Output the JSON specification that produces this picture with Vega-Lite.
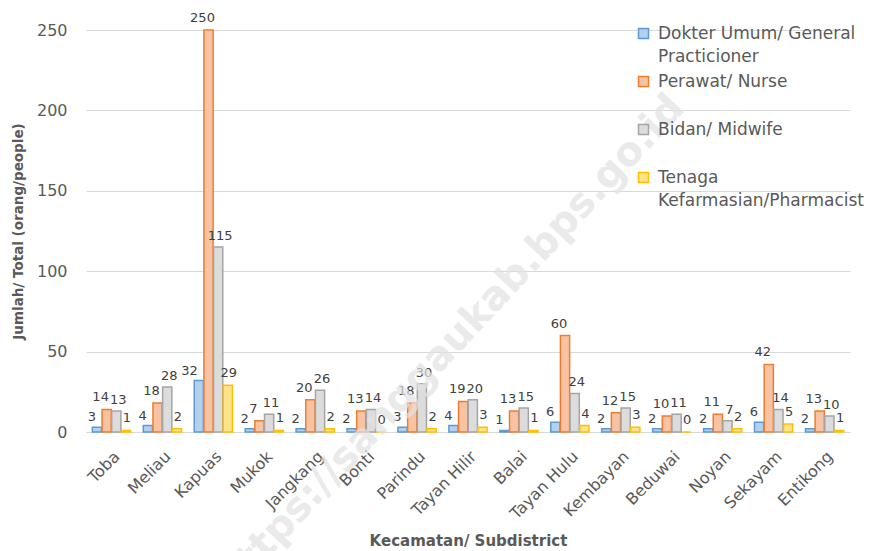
{
  "$schema": "https://vega.github.io/schema/vega-lite/v6.json",
  "width": 764,
  "height": 402,
  "autosize": {"type": "none"},
  "padding": {"left": 86, "top": 30, "right": 22, "bottom": 119},
  "background": "white",
  "config": {
    "font": "DejaVu Sans",
    "view": {"stroke": null},
    "axis": {"labelColor": "#595959", "titleColor": "#595959", "gridColor": "#d9d9d9", "domainColor": "#d9d9d9", "ticks": false}
  },
  "datasets": {
    "main": [
      {"kecamatan": "Toba", "tenaga": "Dokter Umum/ General Practicioner", "jumlah": 3},
      {"kecamatan": "Toba", "tenaga": "Perawat/ Nurse", "jumlah": 14},
      {"kecamatan": "Toba", "tenaga": "Bidan/ Midwife", "jumlah": 13},
      {"kecamatan": "Toba", "tenaga": "Tenaga Kefarmasian/Pharmacist", "jumlah": 1},
      {"kecamatan": "Meliau", "tenaga": "Dokter Umum/ General Practicioner", "jumlah": 4},
      {"kecamatan": "Meliau", "tenaga": "Perawat/ Nurse", "jumlah": 18},
      {"kecamatan": "Meliau", "tenaga": "Bidan/ Midwife", "jumlah": 28},
      {"kecamatan": "Meliau", "tenaga": "Tenaga Kefarmasian/Pharmacist", "jumlah": 2},
      {"kecamatan": "Kapuas", "tenaga": "Dokter Umum/ General Practicioner", "jumlah": 32},
      {"kecamatan": "Kapuas", "tenaga": "Perawat/ Nurse", "jumlah": 250},
      {"kecamatan": "Kapuas", "tenaga": "Bidan/ Midwife", "jumlah": 115},
      {"kecamatan": "Kapuas", "tenaga": "Tenaga Kefarmasian/Pharmacist", "jumlah": 29},
      {"kecamatan": "Mukok", "tenaga": "Dokter Umum/ General Practicioner", "jumlah": 2},
      {"kecamatan": "Mukok", "tenaga": "Perawat/ Nurse", "jumlah": 7},
      {"kecamatan": "Mukok", "tenaga": "Bidan/ Midwife", "jumlah": 11},
      {"kecamatan": "Mukok", "tenaga": "Tenaga Kefarmasian/Pharmacist", "jumlah": 1},
      {"kecamatan": "Jangkang", "tenaga": "Dokter Umum/ General Practicioner", "jumlah": 2},
      {"kecamatan": "Jangkang", "tenaga": "Perawat/ Nurse", "jumlah": 20},
      {"kecamatan": "Jangkang", "tenaga": "Bidan/ Midwife", "jumlah": 26},
      {"kecamatan": "Jangkang", "tenaga": "Tenaga Kefarmasian/Pharmacist", "jumlah": 2},
      {"kecamatan": "Bonti", "tenaga": "Dokter Umum/ General Practicioner", "jumlah": 2},
      {"kecamatan": "Bonti", "tenaga": "Perawat/ Nurse", "jumlah": 13},
      {"kecamatan": "Bonti", "tenaga": "Bidan/ Midwife", "jumlah": 14},
      {"kecamatan": "Bonti", "tenaga": "Tenaga Kefarmasian/Pharmacist", "jumlah": 0},
      {"kecamatan": "Parindu", "tenaga": "Dokter Umum/ General Practicioner", "jumlah": 3},
      {"kecamatan": "Parindu", "tenaga": "Perawat/ Nurse", "jumlah": 18},
      {"kecamatan": "Parindu", "tenaga": "Bidan/ Midwife", "jumlah": 30},
      {"kecamatan": "Parindu", "tenaga": "Tenaga Kefarmasian/Pharmacist", "jumlah": 2},
      {"kecamatan": "Tayan Hilir", "tenaga": "Dokter Umum/ General Practicioner", "jumlah": 4},
      {"kecamatan": "Tayan Hilir", "tenaga": "Perawat/ Nurse", "jumlah": 19},
      {"kecamatan": "Tayan Hilir", "tenaga": "Bidan/ Midwife", "jumlah": 20},
      {"kecamatan": "Tayan Hilir", "tenaga": "Tenaga Kefarmasian/Pharmacist", "jumlah": 3},
      {"kecamatan": "Balai", "tenaga": "Dokter Umum/ General Practicioner", "jumlah": 1},
      {"kecamatan": "Balai", "tenaga": "Perawat/ Nurse", "jumlah": 13},
      {"kecamatan": "Balai", "tenaga": "Bidan/ Midwife", "jumlah": 15},
      {"kecamatan": "Balai", "tenaga": "Tenaga Kefarmasian/Pharmacist", "jumlah": 1},
      {"kecamatan": "Tayan Hulu", "tenaga": "Dokter Umum/ General Practicioner", "jumlah": 6},
      {"kecamatan": "Tayan Hulu", "tenaga": "Perawat/ Nurse", "jumlah": 60},
      {"kecamatan": "Tayan Hulu", "tenaga": "Bidan/ Midwife", "jumlah": 24},
      {"kecamatan": "Tayan Hulu", "tenaga": "Tenaga Kefarmasian/Pharmacist", "jumlah": 4},
      {"kecamatan": "Kembayan", "tenaga": "Dokter Umum/ General Practicioner", "jumlah": 2},
      {"kecamatan": "Kembayan", "tenaga": "Perawat/ Nurse", "jumlah": 12},
      {"kecamatan": "Kembayan", "tenaga": "Bidan/ Midwife", "jumlah": 15},
      {"kecamatan": "Kembayan", "tenaga": "Tenaga Kefarmasian/Pharmacist", "jumlah": 3},
      {"kecamatan": "Beduwai", "tenaga": "Dokter Umum/ General Practicioner", "jumlah": 2},
      {"kecamatan": "Beduwai", "tenaga": "Perawat/ Nurse", "jumlah": 10},
      {"kecamatan": "Beduwai", "tenaga": "Bidan/ Midwife", "jumlah": 11},
      {"kecamatan": "Beduwai", "tenaga": "Tenaga Kefarmasian/Pharmacist", "jumlah": 0},
      {"kecamatan": "Noyan", "tenaga": "Dokter Umum/ General Practicioner", "jumlah": 2},
      {"kecamatan": "Noyan", "tenaga": "Perawat/ Nurse", "jumlah": 11},
      {"kecamatan": "Noyan", "tenaga": "Bidan/ Midwife", "jumlah": 7},
      {"kecamatan": "Noyan", "tenaga": "Tenaga Kefarmasian/Pharmacist", "jumlah": 2},
      {"kecamatan": "Sekayam", "tenaga": "Dokter Umum/ General Practicioner", "jumlah": 6},
      {"kecamatan": "Sekayam", "tenaga": "Perawat/ Nurse", "jumlah": 42},
      {"kecamatan": "Sekayam", "tenaga": "Bidan/ Midwife", "jumlah": 14},
      {"kecamatan": "Sekayam", "tenaga": "Tenaga Kefarmasian/Pharmacist", "jumlah": 5},
      {"kecamatan": "Entikong", "tenaga": "Dokter Umum/ General Practicioner", "jumlah": 2},
      {"kecamatan": "Entikong", "tenaga": "Perawat/ Nurse", "jumlah": 13},
      {"kecamatan": "Entikong", "tenaga": "Bidan/ Midwife", "jumlah": 10},
      {"kecamatan": "Entikong", "tenaga": "Tenaga Kefarmasian/Pharmacist", "jumlah": 1}
    ],
    "watermark": [
      {"kecamatan": "Tayan Hilir", "jumlah": 66, "teks": "https://sanggaukab.bps.go.id"}
    ]
  },
  "layer": [
    {
      "data": {"name": "main"},
      "mark": {"type": "bar", "strokeWidth": 1.5},
      "encoding": {
        "x": {
          "field": "kecamatan", "type": "nominal", "sort": null,
          "scale": {"paddingInner": 0.25, "paddingOuter": 0.125},
          "axis": {
            "title": "Kecamatan/ Subdistrict", "titleFontSize": 15, "titleFontWeight": "bold",
            "titleY": 113, "titleBaseline": "alphabetic",
            "labelAngle": -45, "labelFontSize": 16, "labelPadding": 16, "grid": false
          }
        },
        "xOffset": {
          "field": "tenaga", "type": "nominal",
          "sort": ["Dokter Umum/ General Practicioner", "Perawat/ Nurse", "Bidan/ Midwife", "Tenaga Kefarmasian/Pharmacist"],
          "scale": {"paddingInner": 0.05, "paddingOuter": 0}
        },
        "y": {
          "field": "jumlah", "type": "quantitative",
          "scale": {"domain": [0, 250], "nice": false},
          "axis": {
            "title": "Jumlah/ Total (orang/people)", "titleFontSize": 13.5, "titleFontWeight": "bold",
            "titlePadding": 11, "values": [0, 50, 100, 150, 200, 250],
            "labelFontSize": 16, "labelPadding": 19, "domain": false
          }
        },
        "fill": {
          "field": "tenaga", "type": "nominal",
          "sort": ["Dokter Umum/ General Practicioner", "Perawat/ Nurse", "Bidan/ Midwife", "Tenaga Kefarmasian/Pharmacist"],
          "scale": {"range": ["#b4d0ec", "#f7c3a2", "#dcdcdc", "#ffe28a"]},
          "legend": {
            "title": null, "orient": "none", "legendX": 549, "legendY": -5,
            "symbolType": "square", "symbolSize": 100, "symbolStrokeWidth": 1.5,
            "labelFontSize": 17, "labelColor": "#595959", "labelLimit": 400,
            "rowPadding": 7, "gridAlign": "all", "labelOffset": 6,
            "labelExpr": "datum.label == 'Dokter Umum/ General Practicioner' ? ['Dokter Umum/ General', 'Practicioner'] : datum.label == 'Tenaga Kefarmasian/Pharmacist' ? ['Tenaga', 'Kefarmasian/Pharmacist'] : datum.label",
            "encode": {
              "symbols": {"update": {"stroke": {"scale": "stroke", "field": "value"}, "strokeWidth": {"value": 1.5}}},
              "labels": {"update": {"lineHeight": {"value": 23}}}
            }
          }
        },
        "stroke": {
          "field": "tenaga", "type": "nominal",
          "sort": ["Dokter Umum/ General Practicioner", "Perawat/ Nurse", "Bidan/ Midwife", "Tenaga Kefarmasian/Pharmacist"],
          "scale": {"range": ["#5b9bd5", "#ed7d31", "#a5a5a5", "#ffc000"]},
          "legend": null
        }
      }
    },
    {
      "data": {"name": "main"},
      "transform": [{"filter": "datum.tenaga == 'Dokter Umum/ General Practicioner'"}],
      "mark": {"type": "text", "baseline": "bottom", "align": "right", "dx": -1, "dy": -3, "fontSize": 13, "color": "#404040"},
      "encoding": {
        "x": {"field": "kecamatan", "type": "nominal", "sort": null},
        "xOffset": {"datum": "Dokter Umum/ General Practicioner"},
        "y": {"field": "jumlah", "type": "quantitative"},
        "text": {"field": "jumlah", "type": "quantitative"}
      }
    },
    {
      "data": {"name": "main"},
      "transform": [{"filter": "datum.tenaga == 'Perawat/ Nurse'"}],
      "mark": {"type": "text", "baseline": "bottom", "align": "center", "dx": -6, "dy": -5, "fontSize": 13, "color": "#404040"},
      "encoding": {
        "x": {"field": "kecamatan", "type": "nominal", "sort": null},
        "xOffset": {"datum": "Perawat/ Nurse"},
        "y": {"field": "jumlah", "type": "quantitative"},
        "text": {"field": "jumlah", "type": "quantitative"}
      }
    },
    {
      "data": {"name": "main"},
      "transform": [{"filter": "datum.tenaga == 'Bidan/ Midwife'"}],
      "mark": {"type": "text", "baseline": "bottom", "align": "center", "dx": 2, "dy": -4, "fontSize": 13, "color": "#404040"},
      "encoding": {
        "x": {"field": "kecamatan", "type": "nominal", "sort": null},
        "xOffset": {"datum": "Bidan/ Midwife"},
        "y": {"field": "jumlah", "type": "quantitative"},
        "text": {"field": "jumlah", "type": "quantitative"}
      }
    },
    {
      "data": {"name": "main"},
      "transform": [{"filter": "datum.tenaga == 'Tenaga Kefarmasian/Pharmacist'"}],
      "mark": {"type": "text", "baseline": "bottom", "align": "center", "dx": 1, "dy": -5, "fontSize": 13, "color": "#404040"},
      "encoding": {
        "x": {"field": "kecamatan", "type": "nominal", "sort": null},
        "xOffset": {"datum": "Tenaga Kefarmasian/Pharmacist"},
        "y": {"field": "jumlah", "type": "quantitative"},
        "text": {"field": "jumlah", "type": "quantitative"}
      }
    },
    {
      "data": {"name": "watermark"},
      "mark": {"type": "text", "angle": -47, "fontSize": 40, "fontWeight": "bold", "color": "#e2e2e2", "opacity": 0.7, "dx": -25},
      "encoding": {
        "x": {"field": "kecamatan", "type": "nominal", "sort": null},
        "y": {"field": "jumlah", "type": "quantitative"},
        "text": {"field": "teks", "type": "nominal"}
      }
    }
  ]
}
